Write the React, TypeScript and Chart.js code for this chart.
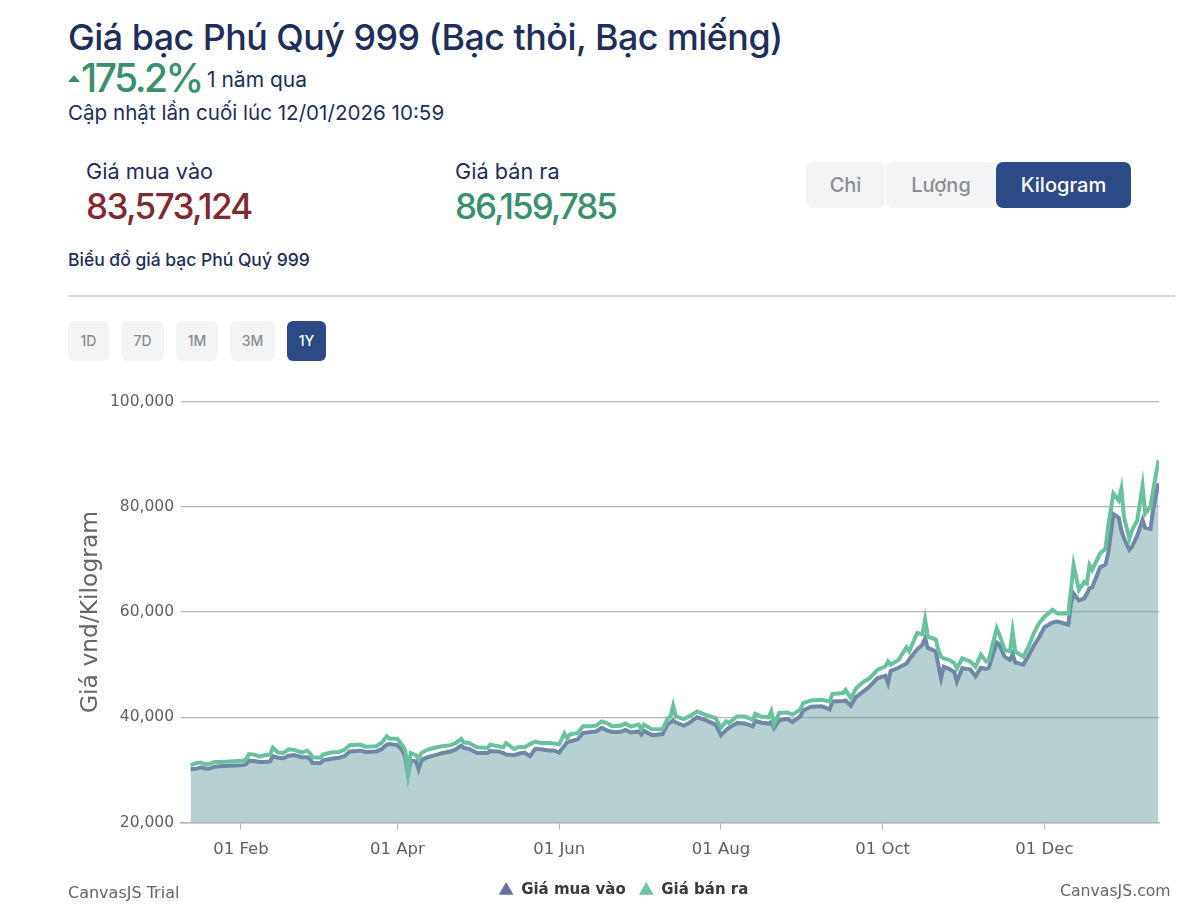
import { useEffect, useRef } from "react"
import { Chart, registerables } from "chart.js"

Chart.register(...registerables)

// day of year counted from 1 Jan 2025
const days = [12, 14, 16, 17, 19, 21, 23, 27, 32, 33, 34, 36, 38, 40, 42, 43, 45, 47, 49, 51, 54, 56, 57, 58, 61, 62, 65, 68, 70, 72, 76, 78, 82, 84, 86, 87, 90, 92, 93, 94, 95, 97, 98, 99, 100, 102, 105, 107, 110, 112, 114, 115, 117, 120, 124, 125, 128, 130, 131, 134, 136, 138, 140, 142, 144, 147, 149, 151, 153, 154, 155, 158, 160, 163, 165, 167, 169, 171, 174, 176, 178, 181, 182, 183, 186, 190, 192, 193, 194, 195, 198, 200, 203, 206, 210, 212, 214, 215, 218, 221, 224, 225, 227, 230, 231, 232, 234, 237, 239, 242, 243, 246, 250, 253, 254, 258, 259, 261, 263, 264, 266, 268, 271, 274, 275, 276, 279, 282, 283, 286, 288, 289, 290, 293, 294, 295, 296, 298, 300, 301, 303, 306, 308, 310, 312, 313, 316, 317, 319, 321, 322, 323, 326, 328, 330, 332, 334, 337, 339, 343, 344, 345, 347, 349, 350, 351, 352, 355, 357, 358, 360, 362, 363, 364, 366, 367, 369, 371, 372, 374, 375, 377]

const sell = [30900, 31250, 31400, 31100, 31100, 31500, 31500, 31600, 31750, 32000, 33000, 32900, 32500, 32800, 32900, 34200, 33300, 33200, 33900, 33800, 33300, 33650, 33200, 32400, 32300, 32900, 33300, 33400, 33800, 34700, 34800, 34400, 34500, 35100, 36400, 35900, 35900, 34600, 33600, 29600, 33200, 32800, 32000, 33200, 33500, 33960, 34300, 34500, 34700, 35100, 35900, 35200, 35100, 34300, 34150, 34800, 34500, 34300, 35100, 33960, 34400, 34300, 34900, 35350, 35100, 35100, 35000, 34850, 36900, 36000, 36700, 37000, 38300, 38300, 38400, 39200, 38900, 38300, 38400, 38800, 38200, 38600, 37750, 38600, 37700, 37750, 39800, 40150, 42200, 40150, 39650, 40150, 41100, 40500, 39850, 38000, 39200, 38900, 40150, 40150, 39500, 40650, 40150, 40000, 41100, 38600, 40800, 40900, 40500, 41500, 42700, 43200, 43300, 43000, 44400, 44600, 45200, 43600, 45500, 46000, 46800, 47400, 49000, 49650, 50600, 50000, 50900, 53300, 52500, 56000, 55800, 58600, 55300, 54800, 52800, 51500, 51200, 50900, 50300, 49300, 51200, 50600, 49600, 51900, 50600, 50900, 56900, 55700, 52800, 52500, 56300, 52500, 51500, 53400, 56000, 57900, 59100, 60400, 59700, 59700, 64200, 68900, 64200, 65700, 65400, 68900, 68000, 71100, 72000, 76200, 82500, 81200, 83400, 78100, 73900, 75500, 77400, 84000, 78700, 80000, 83100, 88800]

const buy = [30100, 30200, 30500, 30300, 30200, 30600, 30700, 30800, 30900, 31100, 31750, 31700, 31500, 31500, 31600, 32600, 32300, 32200, 32700, 32800, 32400, 32400, 32100, 31300, 31300, 31800, 32100, 32300, 32600, 33500, 33650, 33400, 33500, 33900, 34800, 34900, 34700, 33600, 32300, 29100, 31800, 31600, 30100, 31700, 32100, 32500, 32900, 33200, 33500, 33900, 34600, 34200, 34000, 33200, 33200, 33600, 33500, 33200, 32900, 32800, 33100, 33300, 32600, 34000, 33900, 33700, 33700, 33300, 34600, 35300, 35400, 35800, 37000, 37200, 37300, 38000, 37500, 37200, 37200, 37600, 37100, 37300, 36700, 37400, 36600, 36800, 38800, 39000, 39400, 39000, 38400, 38900, 40000, 39500, 38600, 36600, 37600, 38000, 38900, 38800, 38300, 39300, 39000, 38800, 39100, 37900, 39400, 39700, 39100, 40200, 41300, 42000, 42100, 41500, 43000, 43100, 43200, 42200, 43900, 44200, 45000, 45800, 47400, 47900, 46500, 48800, 49400, 50200, 51000, 52900, 53800, 55000, 53200, 52500, 49900, 47400, 49600, 49200, 48600, 46800, 49300, 49100, 47800, 49400, 49200, 49400, 54200, 53800, 51500, 50900, 52000, 50400, 50000, 51700, 53600, 55200, 57100, 58000, 58200, 57600, 61500, 63500, 62200, 62600, 63500, 64500, 64700, 68500, 69000, 71000, 78600, 77900, 75500, 74000, 71800, 72400, 74500, 77500, 76000, 75800, 79500, 84500]

const tickDays = [31, 90, 151, 212, 273, 334]
const tickLabels = ["01 Feb", "01 Apr", "01 Jun", "01 Aug", "01 Oct", "01 Dec"]
const seriesNames = ["Giá mua vào", "Giá bán ra"]
const legendColors = ["#6b6fa8", "#6cc7a1"]
const unitButtons = ["Chỉ", "Lượng", "Kilogram"]
const rangeButtons = ["1D", "7D", "1M", "3M", "1Y"]

const chartFont = "'DejaVu Sans', sans-serif"
const uiFont = "Inter, sans-serif"

const Label = ({ x, y, size, color, weight = 400, spacing = 0, children }: any) => (
  <div
    style={{
      position: "absolute",
      left: x,
      top: y - 30,
      height: 60,
      lineHeight: "60px",
      fontSize: size,
      fontWeight: weight,
      color,
      letterSpacing: spacing,
      whiteSpace: "nowrap",
    }}
  >
    {children}
  </div>
)

const Btn = ({ x, y, w, h, size, active, radius, children }: any) => (
  <div
    style={{
      position: "absolute",
      left: x,
      top: y,
      width: w,
      height: h,
      lineHeight: h + "px",
      textAlign: "center",
      fontSize: size,
      fontWeight: 500,
      borderRadius: radius,
      background: active ? "#2c4a85" : "#f3f4f6",
      color: active ? "#fff" : "#8b8d91",
    }}
  >
    {children}
  </div>
)

// legend sits centred on the whole block, not on the padded plot width
const shiftLegend = {
  id: "shiftLegend",
  afterLayout: (chart: any) => {
    chart.legend.left += 10
    chart.legend.right += 10
  },
}

const PriceChart = () => {
  const canvasRef = useRef<HTMLCanvasElement | null>(null)

  useEffect(() => {
    if (!canvasRef.current) return

    const chartInstance = new Chart(canvasRef.current, {
      type: "line",
      plugins: [shiftLegend],
      data: {
        datasets: [
          {
            label: seriesNames[0],
            data: days.map((d, i) => ({ x: d, y: buy[i] })),
            borderColor: "#6f88a6",
            backgroundColor: "rgba(108,163,163,0.5)",
            borderWidth: 4,
            fill: "start",
            pointRadius: 0,
            tension: 0,
            order: 1,
          },
          {
            label: seriesNames[1],
            data: days.map((d, i) => ({ x: d, y: sell[i] })),
            borderColor: "#68c29e",
            backgroundColor: "#68c29e",
            borderWidth: 4,
            fill: false,
            pointRadius: 0,
            tension: 0,
            order: 0,
          },
        ],
      },
      options: {
        animation: false,
        responsive: false,
        layout: { padding: { top: 16.5, right: 19, left: 0, bottom: 0 } },
        plugins: {
          tooltip: { enabled: false },
          legend: {
            position: "bottom",
            labels: {
              usePointStyle: true,
              boxHeight: 12,
              boxWidth: 15,
              color: "#3a3a3a",
              padding: 13,
              font: { family: chartFont, size: 15, weight: "bold" },
              generateLabels: () =>
                seriesNames.map((name, i) => ({
                  text: name,
                  fillStyle: legendColors[i],
                  strokeStyle: legendColors[i],
                  lineWidth: 0,
                  pointStyle: "triangle",
                  datasetIndex: i,
                  fontColor: "#3a3a3a",
                })),
            },
          },
        },
        scales: {
          x: {
            type: "linear",
            min: 8.4,
            max: 377.2,
            afterBuildTicks: (scale: any) => {
              scale.ticks = tickDays.map((value) => ({ value }))
            },
            afterFit: (scale: any) => {
              scale.height = 47.5
            },
            grid: { drawOnChartArea: false, color: "#b5b5b5", tickLength: 7 },
            border: { color: "#b5b5b5", width: 1.5 },
            ticks: {
              autoSkip: false,
              maxRotation: 0,
              padding: 10,
              color: "#5f5f5f",
              font: { family: chartFont, size: 16.5 },
              callback: (value: any) => tickLabels[tickDays.indexOf(value)],
            },
          },
          y: {
            min: 20000,
            max: 100000,
            afterFit: (scale: any) => {
              scale.width = 113
            },
            title: {
              display: true,
              text: "Giá vnd/Kilogram",
              color: "#666666",
              font: { family: chartFont, size: 23.4 },
              padding: { top: 9, bottom: 0 },
            },
            grid: { color: "#b5b5b5", lineWidth: 1.3, drawTicks: false },
            border: { display: false },
            ticks: {
              stepSize: 20000,
              padding: 7,
              color: "#5f5f5f",
              font: { family: chartFont, size: 15.5 },
              callback: (value: any) => Number(value).toLocaleString("en-US"),
            },
          },
        },
      },
    } as any)

    return () => {
      chartInstance.destroy()
    }
  }, [])

  return (
    <canvas
      ref={canvasRef}
      width={1110}
      height={523}
      style={{ position: "absolute", left: 68, top: 385, width: 1110, height: 523 }}
    />
  )
}

const App = () => {
  const unitBoxes = [
    [806, 79],
    [886, 110],
    [996, 135],
  ]
  const rangeBoxes = [
    [68, 41],
    [121, 43],
    [176, 42],
    [230, 45],
    [287, 39],
  ]

  return (
    <div
      style={{
        position: "absolute",
        left: 0,
        top: 0,
        width: 1200,
        height: 908,
        overflow: "hidden",
        background: "#fff",
        fontFamily: uiFont,
      }}
    >
      <Label x={68} y={37} size={35.8} color="#1f2d5a" weight={500} spacing={-0.5}>
        Giá bạc Phú Quý 999 (Bạc thỏi, Bạc miếng)
      </Label>
      <div
        style={{
          position: "absolute",
          left: 68,
          top: 75,
          width: 0,
          height: 0,
          borderLeft: "6px solid transparent",
          borderRight: "6px solid transparent",
          borderBottom: "7px solid #3a8f6f",
        }}
      />
      <Label x={81} y={78} size={39} color="#3a8f6f" weight={500} spacing={-2.5}>
        175.2%
      </Label>
      <Label x={207} y={80} size={21} color="#1f2d5a">
        1 năm qua
      </Label>
      <Label x={68} y={113} size={20.6} color="#1f2d5a">
        Cập nhật lần cuối lúc 12/01/2026 10:59
      </Label>

      <Label x={86} y={171} size={21.7} color="#1f2d5a">
        Giá mua vào
      </Label>
      <Label x={86} y={206} size={35} color="#7f2a32" weight={500} spacing={-1.6}>
        83,573,124
      </Label>
      <Label x={455} y={171} size={21.7} color="#1f2d5a">
        Giá bán ra
      </Label>
      <Label x={455} y={206} size={35} color="#3a8f6f" weight={500} spacing={-2}>
        86,159,785
      </Label>

      {unitButtons.map((name, i) => (
        <Btn key={name} x={unitBoxes[i][0]} y={162} w={unitBoxes[i][1]} h={46} size={20} radius={7} active={i === 2}>
          {name}
        </Btn>
      ))}

      <Label x={68} y={260} size={17.5} color="#1f2d5a" weight={500}>
        Biểu đồ giá bạc Phú Quý 999
      </Label>
      <div style={{ position: "absolute", left: 68, top: 295, width: 1107, height: 2, background: "#d6d6e0" }} />

      {rangeButtons.map((name, i) => (
        <Btn key={name} x={rangeBoxes[i][0]} y={321} w={rangeBoxes[i][1]} h={40} size={14} radius={6} active={i === 4}>
          {name}
        </Btn>
      ))}

      <PriceChart />

      <div style={{ position: "absolute", left: 68, top: 883, fontFamily: chartFont, fontSize: 16, color: "#666666" }}>
        CanvasJS Trial
      </div>
      <div style={{ position: "absolute", left: 1060, top: 881, fontFamily: chartFont, fontSize: 15.7, color: "#666666" }}>
        CanvasJS.com
      </div>
    </div>
  )
}

export default App
